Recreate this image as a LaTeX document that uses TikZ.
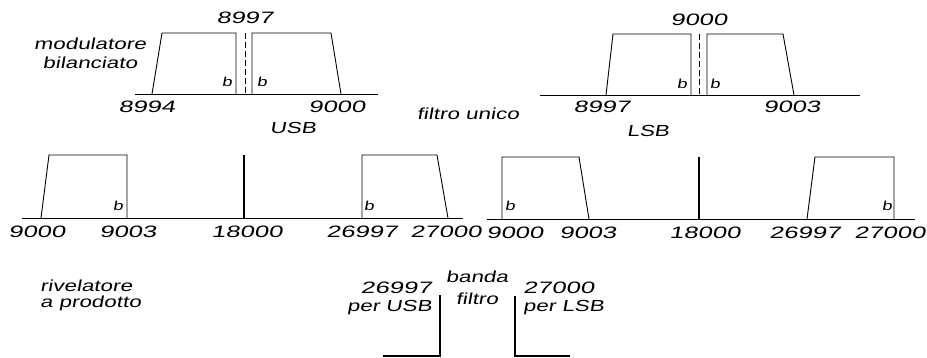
\documentclass[tikz,border=0pt]{standalone}
\usepackage{fontspec}
\setmainfont{Liberation Sans}[FakeSlant=0.18,FakeStretch=1.4]
\newfontfamily\numfont{Liberation Sans}[FakeSlant=0.18,FakeStretch=1.55]
\usepackage{tikz}
\tikzset{
  ax/.style={line width=0.8pt},
  bd/.style={line width=0.9pt,line join=miter},
  cr/.style={line width=0.9pt,dash pattern=on 6pt off 3pt},
  pk/.style={line width=1.6pt},
  tx/.style={inner sep=0pt,font=\fontsize{16}{19}\selectfont},
  nm/.style={inner sep=0pt,font=\fontsize{16.5}{20}\selectfont\numfont},
  sm/.style={inner sep=0pt,font=\fontsize{13}{15}\selectfont}
}

\begin{document}
\begin{tikzpicture}[x=1pt,y=-1pt]
\useasboundingbox (0,0) rectangle (927,357);
% modulatore bilanciato, USB
\draw[ax] (135,94) -- (378,94);
\draw[bd] (152,94) -- (162,33) -- (236,33) -- (236,94);
\draw[cr] (245,33) -- (245,94);
\draw[bd] (252,94) -- (252,33) -- (331,33) -- (341,94);
\node[nm] (mc) at (245,18) {8997};
\node[sm] (mbl) at (227,82) {b}; \node[sm] (mbr) at (262,82) {b};
\node[nm] (ml) at (147,107) {8994}; \node[nm] (mr) at (337,107) {9000};
\node[tx] (usb) at (293,128) {USB};
\node[tx,align=center] (mod) at (90,53) {modulatore\\bilanciato};
% filtro unico, LSB
\draw[ax] (540,95) -- (860,95);
\draw[bd] (606,95) -- (613,34) -- (691,34) -- (691,95);
\draw[cr] (699,34) -- (699,95);
\draw[bd] (707,95) -- (707,34) -- (783,34) -- (794,95);
\node[nm] (fc) at (699,20) {9000};
\node[sm] (fbl) at (682,84) {b}; \node[sm] (fbr) at (715,84) {b};
\node[nm] (fl) at (602,107) {8997}; \node[nm] (fr) at (792,107) {9003};
\node[tx] (lsb) at (648,131) {LSB};
\node[tx] (filt) at (468,114) {filtro unico};
% prodotti, USB
\draw[ax] (22,218) -- (463,218);
\draw[bd] (41,218) -- (49,155) -- (127,155) -- (127,218);
\draw[pk] (244,155) -- (244,218);
\draw[bd] (362,218) -- (362,155) -- (437,155) -- (448,218);
\node[sm] (ub1) at (118,206) {b}; \node[sm] (ub2) at (369,206) {b};
\node[nm] (u1) at (37,232) {9000};
\node[nm] (u2) at (128,232) {9003};
\node[nm] (u3) at (247,232) {18000};
\node[nm] (u4) at (362,232) {26997};
\node[nm] (u5) at (446,232) {27000};
% prodotti, LSB
\draw[ax] (487,219) -- (915,219);
\draw[bd] (502,219) -- (502,157) -- (579,157) -- (589,219);
\draw[pk] (699,157) -- (699,219);
\draw[bd] (807,219) -- (815,157) -- (894,157) -- (894,219);
\node[sm] (lb1) at (510,206) {b}; \node[sm] (lb2) at (887,206) {b};
\node[nm] (l1) at (515,233) {9000};
\node[nm] (l2) at (588,233) {9003};
\node[nm] (l3) at (705,233) {18000};
\node[nm] (l4) at (805,233) {26997};
\node[nm] (l5) at (890,233) {27000};
% rivelatore a prodotto
\node[tx,anchor=west,align=left,font=\fontsize{16}{16}\selectfont] (riv) at (40,295) {rivelatore\\a prodotto};
\draw[pk] (383,356) -- (440,356) -- (440,295);
\draw[pk] (515,296) -- (515,356) -- (570,356);
\node[nm,anchor=east] (pu) at (432,288) {26997};
\node[tx,anchor=east] (pus) at (432,308) {per USB};
\node[nm,anchor=west] (pl) at (523,288) {27000};
\node[tx,anchor=west] (pls) at (523,308) {per LSB};
\node[tx,align=center,font=\fontsize{16}{22}\selectfont] (bf) at (477,288) {banda\\filtro};
\end{tikzpicture}
\end{document}
